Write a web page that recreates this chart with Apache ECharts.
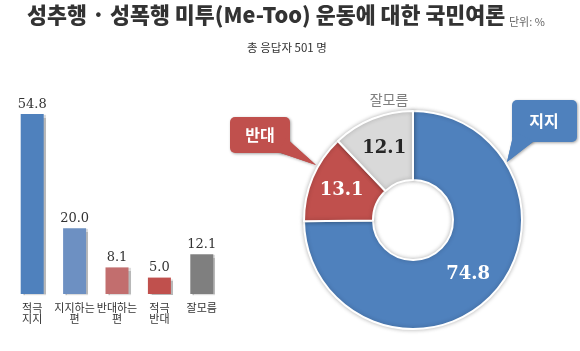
<!DOCTYPE html>
<html>
<head>
<meta charset="utf-8">
<script src="https://cdn.jsdelivr.net/npm/echarts@6/dist/echarts.min.js"></script>
<style>
html,body{margin:0;padding:0;background:#fff;}
#c{width:580px;height:351px;}
</style>
</head>
<body>
<div id="c"></div>
<script>
var categories = ['적극\n지지', '지지하는\n편', '반대하는\n편', '적극\n반대', '잘모름'];
var barValues = [54.8, 20.0, 8.1, 5.0, 12.1];
var pieNames = ['지지', '반대', '잘모름'];
var pieValues = [74.8, 13.1, 12.1];

var barColors = ['#4f81bd', '#6d90c2', '#c26e6e', '#c0504d', '#7f7f7f'];
var pieColors = ['#4f81bd', '#c0504d', '#d9d9d9'];
var pieLabelColors = ['#ffffff', '#ffffff', '#262626'];

var chart = echarts.init(document.getElementById('c'), null, {renderer: 'canvas'});
var KR = '"Noto Sans CJK KR", "Noto Sans", sans-serif';
var SERIF = '"DejaVu Serif", serif';
var calloutShadow = {shadowColor: 'rgba(0,0,0,0.35)', shadowBlur: 3, shadowOffsetX: 1, shadowOffsetY: 1};

function callout(color, box, tail, textPos, text) {
  return [
    {type: 'polygon', shape: {points: tail}, style: Object.assign({fill: color}, calloutShadow), z: 10},
    {type: 'rect', shape: {x: box[0], y: box[1], width: box[2], height: box[3], r: 5},
     style: Object.assign({fill: color}, calloutShadow), z: 11},
    {type: 'polygon', shape: {points: tail}, style: {fill: color}, z: 12},
    {type: 'text', x: textPos[0], y: textPos[1], z: 13,
     style: {text: text, font: 'bold 16px ' + KR, fill: '#ffffff', textAlign: 'center', textVerticalAlign: 'middle'}}
  ];
}

var graphics = [
  {type: 'text', x: 389, y: 100, style: {text: '잘모름', font: '14px ' + KR, fill: '#7f7f7f', textAlign: 'center', textVerticalAlign: 'middle'}}
].concat(
  callout('#c0504d', [230, 117, 60, 36], [[286, 138], [316, 165], [278, 152]], [260, 135], '반대'),
  callout('#4f81bd', [512, 100, 65, 42], [[514, 132], [507, 162], [534, 141]], [544, 121], '지지')
);

var option = {
  backgroundColor: '#ffffff',
  animation: false,
  title: [
    {text: '성추행 · 성폭행 미투(Me-Too) 운동에 대한 국민여론', left: 27, top: 4, padding: 0,
     textStyle: {fontFamily: KR, fontWeight: 900, fontSize: 21.7, color: '#333333'}},
    {text: '단위: %', left: 509, top: 16, padding: 0,
     textStyle: {fontFamily: KR, fontWeight: 'normal', fontSize: 11, color: '#666666'}},
    {text: '총 응답자 501 명', left: 287, top: 42, padding: 0, textAlign: 'center',
     textStyle: {fontFamily: KR, fontWeight: 'normal', fontSize: 11.5, color: '#333333'}}
  ],
  grid: {left: 11, right: 357, top: 97, bottom: 57},
  xAxis: {
    type: 'category', data: categories,
    axisLine: {show: false}, axisTick: {show: false},
    axisLabel: {interval: 0, margin: 8, fontFamily: KR, fontSize: 11, lineHeight: 11, color: '#333333', verticalAlign: 'top'}
  },
  yAxis: {type: 'value', min: 0, max: 60, show: false, splitLine: {show: false}},
  series: [
    {
      type: 'bar', barWidth: 23,
      data: barValues.map(function (v, i) {
        return {value: v, itemStyle: {color: barColors[i]}};
      }),
      itemStyle: {shadowColor: 'rgba(0,0,0,0.28)', shadowOffsetX: 2, shadowOffsetY: 1, shadowBlur: 1},
      label: {show: true, position: 'top', distance: 3, fontFamily: SERIF, fontSize: 13, color: '#333333',
        formatter: function (p) { return p.value.toFixed(1); }}
    },
    {
      type: 'pie', center: [413, 220], radius: [40, 109], startAngle: 90, clockwise: true,
      avoidLabelOverlap: false,
      itemStyle: {borderColor: '#ffffff', borderWidth: 2, shadowColor: 'rgba(0,0,0,0.25)', shadowBlur: 4},
      label: {show: true, position: 'inside', fontFamily: SERIF, fontWeight: 'bold', fontSize: 18,
        formatter: function (p) { return p.value.toFixed(1); }},
      labelLine: {show: false},
      data: pieValues.map(function (v, i) {
        return {name: pieNames[i], value: v, itemStyle: {color: pieColors[i]}, label: {color: pieLabelColors[i]}};
      })
    }
  ],
  graphic: graphics
};
chart.setOption(option);
</script>
</body>
</html>
